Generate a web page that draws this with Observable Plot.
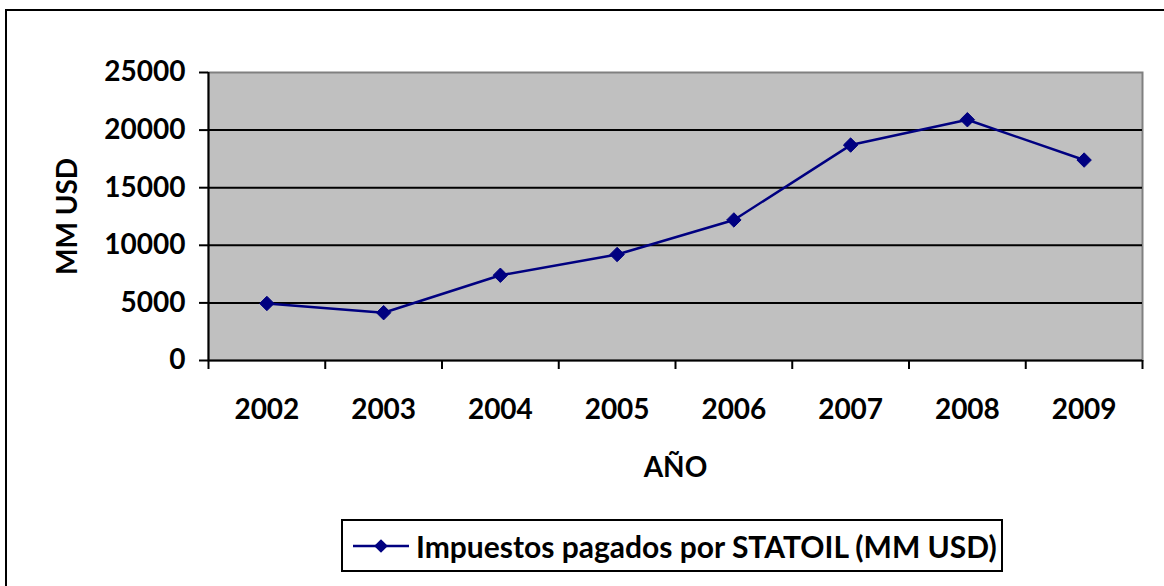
<!DOCTYPE html>
<html>
<head>
<meta charset="utf-8">
<script src="https://cdn.jsdelivr.net/npm/d3@7"></script>
<script src="https://cdn.jsdelivr.net/npm/@observablehq/plot@0.6"></script>
<style>
  html, body { margin: 0; padding: 0; background: #fff; overflow: hidden; width: 1164px; height: 586px; }
  #outer { position: absolute; left: 5px; top: 9px; width: 1200px; height: 620px; border: 2px solid #000; box-sizing: border-box; }
  #chart { position: absolute; left: 0; top: 0; }
  #legend { position: absolute; left: 341px; top: 519px; width: 662px; height: 53px; border: 2px solid #000; box-sizing: border-box; background: #fff;
    display: flex; align-items: center; font-family: Lato, "Open Sans", sans-serif; font-weight: bold; font-size: 30px; color: #000; white-space: nowrap; }
  #legend svg { margin-left: 10px; margin-right: 7px; flex: none; }
</style>
</head>
<body>
<div id="outer"></div>
<div id="chart"></div>
<div id="legend"></div>
<script>
const years = ["2002", "2003", "2004", "2005", "2006", "2007", "2008", "2009"];
const values = [4950, 4150, 7400, 9200, 12200, 18700, 20900, 17400];
const yTicks = [0, 5000, 10000, 15000, 20000, 25000];
const gridValues = [5000, 10000, 15000, 20000];
const seriesName = "Impuestos pagados por STATOIL (MM USD)";
const yTitle = "MM USD";
const xTitle = "AÑO";

const navy = "#000080";
const font = "Lato, 'Open Sans', sans-serif";
const fs = 28;
const data = years.map((y, i) => ({year: y, idx: i + 0.5, value: values[i]}));
const boundaries = d3.range(years.length + 1);

const chart = Plot.plot({
  width: 1164,
  height: 586,
  marginLeft: 208,
  marginRight: 22,
  marginTop: 72,
  marginBottom: 226,
  style: {fontFamily: font, fontWeight: "bold", fontSize: fs + "px", color: "#000", background: "transparent", overflow: "visible"},
  x: {domain: [0, years.length], axis: null},
  y: {domain: [0, 25000], axis: null},
  marks: [
    Plot.frame({fill: "#c0c0c0", stroke: "#808080", strokeWidth: 2}),
    Plot.ruleY(gridValues, {stroke: "#000", strokeWidth: 2}),
    Plot.axisY({ticks: yTicks, tickSize: 9, tickPadding: 14, tickFormat: d => String(d), stroke: "#000", strokeWidth: 2,
      fontSize: fs, fontWeight: "bold", label: null}),
    Plot.axisX({ticks: boundaries, tickSize: 9, tickFormat: () => "", stroke: "#000", strokeWidth: 2, label: null}),
    Plot.ruleY([0], {stroke: "#000", strokeWidth: 2}),
    Plot.ruleX([0], {stroke: "#000", strokeWidth: 2}),
    Plot.text([yTitle], {frameAnchor: "left", dx: -140, rotate: -90, textAnchor: "middle", fontSize: fs, fontWeight: "bold", fill: "#000", lineAnchor: "middle"}),
    Plot.text(data, {x: "idx", text: "year", frameAnchor: "bottom", dy: 50, fontSize: fs, fontWeight: "bold", fill: "#000", lineAnchor: "middle"}),
    Plot.text([xTitle], {frameAnchor: "bottom", dy: 108, fontSize: fs, fontWeight: "bold", fill: "#000", lineAnchor: "middle"}),
    Plot.line(data, {x: "idx", y: "value", stroke: navy, strokeWidth: 2.5}),
    Plot.dot(data, {x: "idx", y: "value", symbol: "diamond2", r: 6.5, fill: navy, stroke: navy, strokeWidth: 1})
  ]
});
document.getElementById("chart").appendChild(chart);

// Legend
const leg = document.getElementById("legend");
const sw = d3.create("svg").attr("width", 56).attr("height", 20);
sw.append("line").attr("x1", 0).attr("x2", 56).attr("y1", 10).attr("y2", 10).attr("stroke", navy).attr("stroke-width", 2.5);
sw.append("path").attr("d", d3.symbol(d3.symbolDiamond2, 120)()).attr("transform", "translate(28,10)").attr("fill", navy);
leg.appendChild(sw.node());
const span = document.createElement("span");
span.textContent = seriesName;
leg.appendChild(span);
</script>
</body>
</html>
